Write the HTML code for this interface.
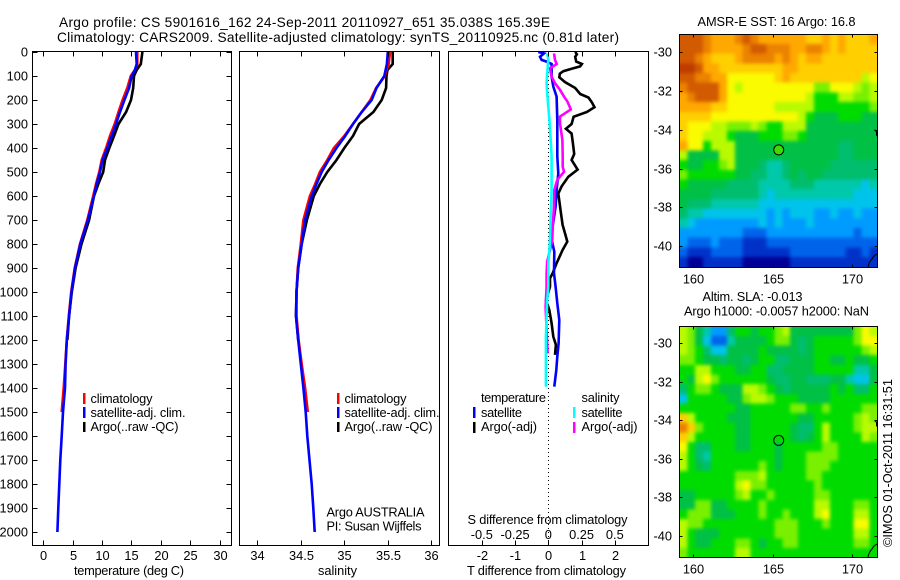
<!DOCTYPE html>
<html>
<head>
<meta charset="utf-8">
<title>Argo profile</title>
<style>
html,body{margin:0;padding:0;background:#fff;}
svg{display:block;}
text{font-family:"Liberation Sans",sans-serif;font-size:12.8px;fill:#000;}
text.big{font-size:13.7px;}
</style>
</head>
<body>
<svg id="chart" xmlns="http://www.w3.org/2000/svg" width="900" height="580" viewBox="0 0 900 580">
<defs>
<filter id="soften" filterUnits="userSpaceOnUse" x="650" y="10" width="250" height="570" color-interpolation-filters="sRGB"><feGaussianBlur stdDeviation="1.8"/></filter>
<clipPath id="sst-clip"><rect x="679.5" y="34.5" width="198" height="233"/></clipPath>
<clipPath id="sla-clip"><rect x="679.5" y="326.5" width="198" height="231"/></clipPath>
</defs>
<rect x="0" y="0" width="900" height="580" fill="#fff"/>
<text class="big" x="59" y="27" textLength="491" lengthAdjust="spacing">Argo profile: CS 5901616_162 24-Sep-2011 20110927_651 35.038S 165.39E</text>
<text class="big" x="57" y="42" textLength="562" lengthAdjust="spacing">Climatology: CARS2009. Satellite-adjusted climatology: synTS_20110925.nc (0.81d later)</text>
<text x="74" y="575" textLength="110" lengthAdjust="spacing">temperature (deg C)</text>
<text x="318" y="575" textLength="39" lengthAdjust="spacing">salinity</text>
<text x="467" y="575" textLength="159" lengthAdjust="spacing">T difference from climatology</text>
<text x="467.5" y="524" textLength="160" lengthAdjust="spacing">S difference from climatology</text>
<text x="326.5" y="516.5" textLength="98" lengthAdjust="spacing">Argo AUSTRALIA</text>
<text x="326.5" y="530.5" textLength="95" lengthAdjust="spacing">PI: Susan Wijffels</text>
<text x="697.5" y="26" textLength="158" lengthAdjust="spacing">AMSR-E SST: 16 Argo: 16.8</text>
<text x="702.5" y="301" textLength="100" lengthAdjust="spacing">Altim. SLA: -0.013</text>
<text x="684" y="315.5" textLength="185" lengthAdjust="spacing">Argo h1000: -0.0057 h2000: NaN</text>
<text transform="translate(892,547) rotate(-90)" textLength="168" lengthAdjust="spacing">©IMOS 01-Oct-2011 16:31:51</text>

<g>
<rect x="83" y="393" width="2.5" height="11" fill="#f00"/>
<text x="90.5" y="403" textLength="62" lengthAdjust="spacing">climatology</text>
<rect x="83" y="407" width="2.5" height="11" fill="#00f"/>
<text x="90.5" y="417" textLength="95" lengthAdjust="spacing">satellite-adj. clim.</text>
<rect x="83" y="422" width="2.5" height="10" fill="#000"/>
<text x="90.5" y="431" textLength="88" lengthAdjust="spacing">Argo(..raw -QC)</text>
</g>
<g>
<rect x="337" y="393" width="2.5" height="11" fill="#f00"/>
<text x="344.5" y="403" textLength="62" lengthAdjust="spacing">climatology</text>
<rect x="337" y="407" width="2.5" height="11" fill="#00f"/>
<text x="344.5" y="417" textLength="95" lengthAdjust="spacing">satellite-adj. clim.</text>
<rect x="337" y="422" width="2.5" height="10" fill="#000"/>
<text x="344.5" y="431" textLength="88" lengthAdjust="spacing">Argo(..raw -QC)</text>
</g>
<g id="diff-legend">
<text x="481" y="402" textLength="65" lengthAdjust="spacing">temperature</text>
<text x="581.5" y="402" textLength="38" lengthAdjust="spacing">salinity</text>
<rect x="473" y="407" width="2.5" height="11" fill="#00f"/>
<text x="481" y="417" textLength="41" lengthAdjust="spacing">satellite</text>
<rect x="473" y="422" width="2.5" height="11" fill="#000"/>
<text x="481" y="431" textLength="56" lengthAdjust="spacing">Argo(-adj)</text>
<rect x="573" y="407" width="2.5" height="11" fill="#0ff"/>
<text x="581.5" y="417" textLength="41" lengthAdjust="spacing">satellite</text>
<rect x="573" y="422" width="2.5" height="11" fill="#f0f"/>
<text x="581.5" y="431" textLength="56" lengthAdjust="spacing">Argo(-adj)</text>
</g>
</svg>
<script>
// ---- profile data ----
const profileDepths = [0,50,75,100,150,200,250,300,350,400,450,500,550,600,700,800,900,1000,1100,1200,1300,1400,1500,1600,1700,1800,1900,2000];
const tempClimatology = [16,16,15.6,14.9,14.3,13.5,12.8,12.15,11.36,10.7,9.94,9.54,8.97,8.5,7.5,6.25,5.35,4.75,4.35,4.0,3.75,3.47,3.13];
const tempSatellite = [15.79,15.9,15.6,15.05,14.6,13.8,13.06,12.38,11.64,10.9,10.1,9.65,9.09,8.63,7.6,6.3,5.4,4.8,4.4,4.0,3.8,3.7,3.35,3.13,2.9,2.73,2.56,2.4];
const tempArgo = [16.87,16.6,15.9,15.45,15.3,14.93,14.1,12.8,12.04,11.24,10.5,10.2,9.37,8.63,7.8,6.5,5.5,4.85,4.4,4.1];
const salClimatology = [35.525,35.51,35.485,35.465,35.365,35.3,35.2,35.1,35.0,34.88,34.805,34.72,34.665,34.605,34.53,34.5,34.465,34.45,34.45,34.475,34.51,34.55,34.58];
const salSatellite = [35.5,35.49,35.475,35.46,35.37,35.315,35.2,35.1,35.01,34.91,34.82,34.74,34.68,34.625,34.55,34.51,34.47,34.45,34.445,34.47,34.5,34.53,34.556,34.575,34.6,34.625,34.644,34.66];
const salArgo = [35.556,35.556,35.495,35.485,35.48,35.43,35.335,35.17,35.1,35.0,34.91,34.805,34.72,34.65,34.57,34.51,34.47,34.45,34.445,34.47];

const diffTArgoDepths = [0,10,20,40,50,60,70,80,90,105,125,150,175,190,210,230,250,270,300,320,340,380,425,450,490,520,560,590,620,670,720,760,790,825,880,922,943,978,1033,1075,1130,1186,1220,1262];
const diffTArgo = [0.81,0.86,0.81,0.84,1.01,0.96,0.7,0.45,0.35,0.33,0.5,0.81,0.96,1.21,1.31,1.39,1.16,0.76,0.7,0.53,0.7,0.74,0.78,0.7,0.88,0.6,0.4,0.3,0.33,0.38,0.43,0.51,0.57,0.43,0.25,0.13,0.05,0.05,-0.07,0.03,0.1,0.15,0.23,0.2];
const diffTSatDepths = [0,6,20,33,40,50,103,144,186,283,436,506,575,644,728,780,832,922,978,1047,1117,1214,1269,1325,1394];
const diffTSat = [-0.3,-0.13,-0.25,-0.2,-0.05,0.1,0.1,0.15,0.25,0.27,0.27,0.3,0.25,0.22,0.13,0.1,0.18,0.17,0.22,0.27,0.33,0.31,0.27,0.24,0.18];
const diffSSatDepths = [6,33,89,130,172,228,283,367,436,506,575,644,728,780,825,880,978,1033,1103,1186,1297,1394];
const diffSSat = [-0.008,0,-0.008,-0.013,-0.008,0,0.008,0.018,0.025,0.025,0.025,0.02,0.015,0.013,0.008,0,0,-0.008,-0.013,-0.018,-0.018,-0.018];
const diffSArgoDepths = [6,33,50,68,103,130,158,186,207,239,269,297,318,367,436,478,499,533,575,644,728,780,797,873,922,978,1061,1089,1256];
const diffSArgo = [0.043,0.05,0.063,0.013,0.025,0.05,0.088,0.118,0.144,0.169,0.088,0.088,0.093,0.106,0.108,0.108,0.118,0.068,0.045,0.043,0.033,0.03,0.025,-0.008,-0.013,-0.013,-0.02,-0.018,-0.005];

// ---- tick labels ----
const depthTicks = [0,100,200,300,400,500,600,700,800,900,1000,1100,1200,1300,1400,1500,1600,1700,1800,1900,2000];
const tempTicks = [0,5,10,15,20,25,30];
const salTicks = [34,34.5,35,35.5,36];
const diffTTicks = [-2,-1,0,1,2];
const diffSTicks = [-0.5,-0.25,0,0.25,0.5];
const lonTicks = [160,165,170];
const latTicks = [-30,-32,-34,-36,-38,-40];

// ---- map grids: colour-level per half-degree cell, rows north to south ----
const sstLevels = [
[15,15,15,14,13,13,13,14,15,14,13,13,13,13,13,13,12,12,13,12,13,12,12,12,13],
[15,15,15,14,13,13,13,13,14,15,15,14,14,14,13,13,14,14,13,12,13,12,12,12,12],
[15,15,14,13,12,12,12,13,14,14,14,14,13,14,13,12,13,13,12,12,12,12,12,12,12],
[16,16,15,13,13,12,12,12,12,12,12,12,12,13,13,12,12,12,12,12,12,12,12,12,12],
[15,15,14,14,13,13,11,11,11,11,11,11,12,13,12,12,12,12,12,12,12,12,12,10,11],
[14,15,15,15,15,13,11,10,11,11,11,11,11,11,11,11,11,9,9,11,11,11,10,9,10],
[13,14,15,15,15,13,11,11,11,11,11,11,11,11,11,11,10,8,8,8,10,10,9,9,10],
[13,13,13,13,12,12,11,11,11,11,11,11,10,10,10,10,10,8,8,8,8,8,8,8,9],
[12,12,12,12,11,11,11,11,11,11,11,11,11,11,11,10,8,7,7,7,8,8,8,7,7],
[12,11,11,11,10,10,9,9,9,10,9,8,8,10,10,10,7,7,7,7,7,7,7,7,7],
[12,11,11,10,10,10,8,7,7,7,8,8,8,9,9,8,7,7,7,7,7,7,7,7,7],
[13,11,11,8,10,10,10,7,7,7,7,7,7,7,7,7,7,7,7,7,6,6,7,7,7],
[10,7,7,7,7,10,10,7,7,7,7,7,7,7,7,7,7,7,7,7,6,6,7,7,7],
[8,7,7,8,8,9,10,7,7,7,6,5,5,6,7,7,7,7,7,6,6,6,6,6,6],
[9,8,8,8,8,8,8,7,7,6,6,5,5,6,7,6,7,7,6,6,6,6,6,6,6],
[8,7,7,7,7,7,6,6,6,6,5,5,5,5,6,6,6,5,5,5,5,5,5,4,5],
[7,7,7,7,6,6,6,6,6,6,5,4,5,5,5,5,5,5,5,5,5,5,4,4,4],
[7,6,6,6,5,5,5,5,5,5,4,4,4,4,4,4,4,4,4,4,4,4,4,4,4],
[6,5,5,4,4,4,4,4,4,4,4,3,4,3,4,4,4,3,3,4,3,3,4,3,3],
[5,4,3,3,3,3,3,3,3,3,4,3,4,3,3,3,4,3,3,3,3,3,3,3,3],
[3,3,3,3,3,3,3,3,2,2,2,3,3,3,3,3,3,3,3,3,3,3,2,3,3],
[3,2,2,2,3,2,2,2,1,1,1,2,2,2,2,2,2,2,2,2,2,2,2,2,2],
[2,1,1,1,2,2,2,2,1,1,1,1,1,1,2,2,2,2,2,2,2,1,1,2,1],
[1,0,0,1,1,1,1,1,0,0,0,0,0,0,1,1,1,1,1,1,1,1,1,1,1]
];
const slaLevels = [
[10,9,7,5,3,3,6,8,8,7,8,8,9,10,7,7,7,7,7,7,7,7,9,11,10],
[10,9,7,4,2,2,5,7,7,7,7,8,9,9,7,6,7,8,8,8,8,8,9,11,11],
[10,9,8,6,4,4,7,7,7,7,8,7,7,7,7,6,7,8,8,8,8,8,8,9,10],
[9,9,8,7,7,6,7,7,6,7,8,8,6,6,7,7,7,8,8,7,7,8,7,7,8],
[8,8,10,10,8,8,8,7,7,8,8,6,6,7,7,7,7,8,8,8,8,8,5,5,7],
[8,7,10,11,9,8,8,8,8,8,8,7,6,6,7,7,6,6,6,7,7,5,4,4,7],
[6,8,9,9,8,7,7,7,10,10,9,8,7,6,7,7,7,7,7,8,7,8,6,6,8],
[4,8,8,8,8,8,7,7,9,10,10,9,8,8,8,7,7,7,7,8,8,8,8,8,8],
[8,8,8,8,8,8,8,7,7,8,8,8,8,8,9,9,8,8,9,8,8,8,8,9,9],
[12,10,8,8,8,8,7,7,7,8,8,8,8,8,8,7,7,8,8,8,8,8,9,10,9],
[14,12,9,8,8,8,8,7,7,8,8,8,8,8,7,6,6,8,10,8,8,8,9,10,10],
[12,10,8,8,8,8,8,7,7,8,8,8,8,8,7,6,7,8,10,8,8,8,8,10,9],
[11,8,6,6,8,8,8,7,7,8,8,8,7,8,8,8,8,8,9,9,8,8,8,8,8],
[10,8,6,5,8,8,8,8,8,8,8,8,7,8,8,8,9,9,9,9,8,8,8,8,8],
[10,8,7,6,8,8,8,8,8,8,9,8,7,8,8,8,9,9,9,8,8,8,8,8,8],
[8,8,8,8,8,8,8,9,9,9,10,8,8,8,8,8,9,9,8,8,8,8,8,8,8],
[8,8,8,8,8,8,8,10,11,9,9,8,8,8,8,8,8,9,8,8,8,8,8,8,8],
[7,7,8,8,8,8,8,9,10,8,8,9,8,8,8,8,8,9,9,8,8,8,8,8,8],
[7,7,9,9,7,7,8,8,8,8,9,8,8,8,8,8,8,10,10,8,8,8,9,9,8],
[8,9,9,9,7,7,7,8,8,8,9,8,8,9,8,8,8,10,11,8,8,8,10,10,8],
[10,9,9,8,8,8,8,8,8,8,8,8,9,9,9,8,8,8,9,8,8,8,11,11,8],
[10,8,7,7,7,8,8,8,8,8,8,8,9,9,9,8,8,8,8,8,8,8,10,10,8],
[10,8,7,7,8,8,8,9,9,8,7,8,8,9,9,8,8,8,8,8,8,8,9,9,8],
[9,8,8,8,8,8,8,10,10,8,8,8,8,8,8,8,8,8,8,8,8,8,8,8,8]
];
const floatLon = 165.39;
const floatLat = -35.04;

const palette = ['#000096','#0032c8','#0064eb','#009bff','#00c3eb','#00c8aa','#00be6e','#00c046','#00dc00','#78f000','#b9fa00','#fafa00','#ffcf00','#ffa800','#eb8200','#d25a00','#be3c00'];

const svg = document.getElementById('chart');
const NS = 'http://www.w3.org/2000/svg';

function make(tag, attrs, parent) {
  const node = document.createElementNS(NS, tag);
  for (const k in attrs) node.setAttribute(k, attrs[k]);
  parent.appendChild(node);
  return node;
}
function scale(d0, d1, r0, r1) {
  return v => r0 + (v - d0) * (r1 - r0) / (d1 - d0);
}
const yDepth = scale(0, 2000, 52, 532);
const xTemp = scale(0, 30, 43.3, 219.5);
const xSal = scale(34, 36, 257.3, 431.3);
const xDiffT = scale(-2, 2, 481.8, 614.8);
const xDiffS = scale(-0.5, 0.5, 481.8, 614.8);
const xLon = scale(160, 170, 693.3, 851.7);
const ySst = scale(-30, -40, 52.3, 246);
const ySla = scale(-30, -40, 343.3, 536);

function drawLine(parent, name, xFn, values, depths, color) {
  const pts = values.map((v, i) => xFn(v).toFixed(1) + ',' + yDepth(depths[i]).toFixed(1)).join(' ');
  const line = make('polyline', {points: pts, fill: 'none', stroke: color, 'stroke-width': 2.6}, parent);
  
  
}
function drawTick(parent, x1, y1, x2, y2) {
  const tick = make('line', {x1: x1, y1: y1, x2: x2, y2: y2, stroke: '#000', 'stroke-width': 1, 'shape-rendering': 'crispEdges'}, parent);
  
  
}
function drawLabel(parent, x, y, str, anchor) {
  const t = make('text', {x: x, y: y, 'text-anchor': anchor}, parent);
  t.textContent = str;
  
  
}
function drawFrame(parent, x0, y0, x1, y1) {
  const f = make('rect', {x: x0, y: y0, width: x1 - x0, height: y1 - y0, fill: 'none', stroke: '#000', 'stroke-width': 1, 'shape-rendering': 'crispEdges'}, parent);
  
  
}
function fmt(v) {
  return String(v);
}

// ---- panel 1: temperature ----
const panelT = make('g', {}, svg);


drawLine(panelT, 'temperature-argo-line', xTemp, tempArgo, profileDepths, '#000');
drawLine(panelT, 'temperature-climatology-line', xTemp, tempClimatology, profileDepths, '#f00');
drawLine(panelT, 'temperature-satellite-line', xTemp, tempSatellite, profileDepths, '#00f');
drawFrame(panelT, 32.5, 51.5, 231.5, 545.5);
depthTicks.forEach(d => {
  const y = Math.round(yDepth(d)) + 0.5;
  drawTick(panelT, 32.5, y, 37.5, y);
  drawTick(panelT, 226.5, y, 231.5, y);
  drawLabel(panelT, 28, y + 4, String(d), 'end');
});
tempTicks.forEach(v => {
  const x = Math.round(xTemp(v)) + 0.5;
  drawTick(panelT, x, 51.5, x, 56.5);
  drawTick(panelT, x, 540.5, x, 545.5);
  drawLabel(panelT, x, 560, String(v), 'middle');
});

// ---- panel 2: salinity ----
const panelS = make('g', {}, svg);


drawLine(panelS, 'salinity-argo-line', xSal, salArgo, profileDepths, '#000');
drawLine(panelS, 'salinity-climatology-line', xSal, salClimatology, profileDepths, '#f00');
drawLine(panelS, 'salinity-satellite-line', xSal, salSatellite, profileDepths, '#00f');
drawFrame(panelS, 239.5, 51.5, 439.5, 545.5);
salTicks.forEach(v => {
  const x = Math.round(xSal(v)) + 0.5;
  drawTick(panelS, x, 51.5, x, 56.5);
  drawTick(panelS, x, 540.5, x, 545.5);
  drawLabel(panelS, x, 560, fmt(v), 'middle');
});

// ---- panel 3: differences ----
const panelD = make('g', {}, svg);


const zeroLine = make('line', {x1: 548.5, y1: 52, x2: 548.5, y2: 545, stroke: '#000', 'stroke-width': 1, 'stroke-dasharray': '1 3', 'shape-rendering': 'crispEdges'}, panelD);


drawLine(panelD, 'argo-temperature-difference-line', xDiffT, diffTArgo, diffTArgoDepths, '#000');
drawLine(panelD, 'satellite-temperature-difference-line', xDiffT, diffTSat, diffTSatDepths, '#00f');
drawLine(panelD, 'argo-salinity-difference-line', xDiffS, diffSArgo, diffSArgoDepths, '#f0f');
drawLine(panelD, 'satellite-salinity-difference-line', xDiffS, diffSSat, diffSSatDepths, '#0ff');
drawFrame(panelD, 448.5, 51.5, 648.5, 545.5);
diffTTicks.forEach(v => {
  const x = Math.round(xDiffT(v)) + 0.5;
  drawTick(panelD, x, 51.5, x, 56.5);
  drawTick(panelD, x, 540.5, x, 545.5);
  drawLabel(panelD, x, 560, String(v), 'middle');
});
diffSTicks.forEach(v => {
  const x = xDiffS(v);
  drawLabel(panelD, x, 539, fmt(v), 'middle');
});

// ---- maps ----
function drawMap(groupName, cellName, levels, yLat, top, bottom, circleFill, clipId) {
  const g = make('g', {}, svg);
  
  
  const clip = make('g', {'clip-path': 'url(#' + clipId + ')'}, g);
  
  
  const cells = make('g', {filter: 'url(#soften)'}, clip);
  
  
  const lon0 = 159.12, lat0 = (top === 34.5) ? -29.07 : -29.12;
  levels.forEach((row, r) => {
    row.forEach((lev, c) => {
      const pad = 10;
      const x0 = xLon(lon0 + 0.5 * c) - (c === 0 ? pad : 0);
      const x1 = xLon(lon0 + 0.5 * (c + 1)) + (c === row.length - 1 ? pad : 0);
      const y0 = yLat(lat0 - 0.5 * r) - (r === 0 ? pad : 0);
      const y1 = yLat(lat0 - 0.5 * (r + 1)) + (r === levels.length - 1 ? pad : 0);
      const cell = make('rect', {x: x0.toFixed(1), y: y0.toFixed(1), width: (x1 - x0 + 0.5).toFixed(1), height: (y1 - y0 + 0.5).toFixed(1), fill: palette[lev], 'shape-rendering': 'crispEdges'}, cells);
      
      
    });
  });
  const coast1 = make('path', {d: 'M868 ' + (bottom - 0.5) + ' q1 -5 4 -8 q2 -4 5.5 -5', fill: 'none', stroke: '#000', 'stroke-width': 1}, g);
  
  
  const yIsl = yLat(-34.05);
  const coast2 = make('path', {d: 'M874.5 ' + (yIsl - 1) + ' l2 2 l1 -1 M876.5 ' + (yIsl + 1) + ' v4', fill: 'none', stroke: '#000', 'stroke-width': 1}, g);
  
  
  const marker = make('circle', {cx: xLon(floatLon).toFixed(1), cy: yLat(floatLat).toFixed(1), r: 5, fill: circleFill, stroke: '#000', 'stroke-width': 1}, g);
  
  
  drawFrame(g, 679.5, top, 877.5, bottom);
  lonTicks.forEach(v => {
    const x = Math.round(xLon(v)) + 0.5;
    drawTick(g, x, top, x, top + 3);
    drawTick(g, x, bottom - 3, x, bottom);
    drawLabel(g, x, bottom + 16, String(v), 'middle');
  });
  latTicks.forEach(v => {
    const y = Math.round(yLat(v)) + 0.5;
    drawTick(g, 679.5, y, 682.5, y);
    drawTick(g, 874.5, y, 877.5, y);
    drawLabel(g, 672, y + 4, String(v), 'end');
  });
}
drawMap('sst-map', 'sst-cell', sstLevels, ySst, 34.5, 267.5, '#3cdc00', 'sst-clip');
drawMap('sla-map', 'sla-cell', slaLevels, ySla, 326.5, 557.5, 'none', 'sla-clip');
</script>
</body>
</html>
